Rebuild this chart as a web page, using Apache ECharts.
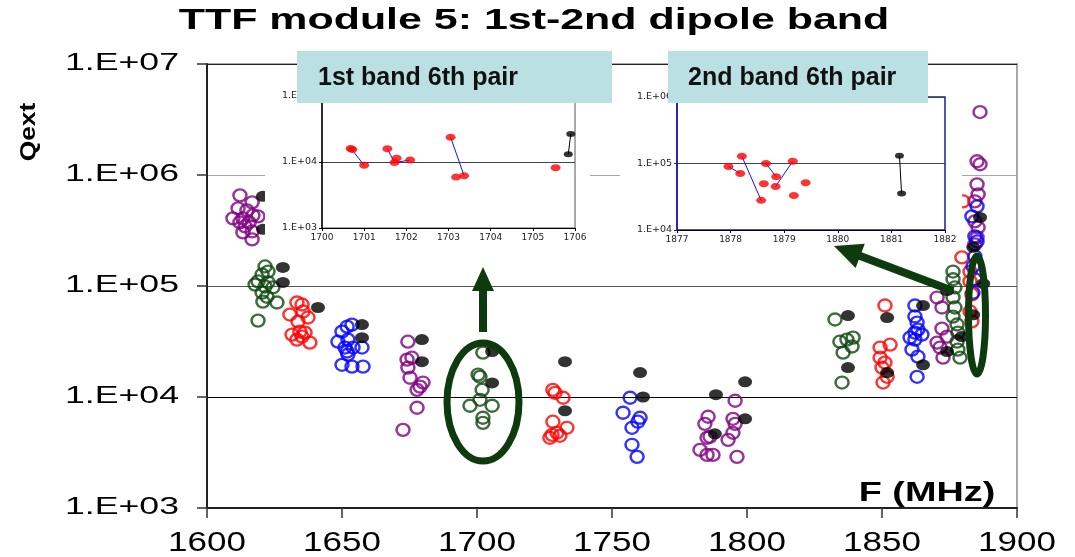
<!DOCTYPE html>
<html>
<head>
<meta charset="utf-8">
<script src="https://cdn.jsdelivr.net/npm/echarts@6/dist/echarts.min.js"></script>
<style>
  html, body { margin: 0; padding: 0; background: #fff; }
  #chart { width: 1075px; height: 557px; }
</style>
</head>
<body>
<div id="chart"></div>
<script>
// ---- Main plot: Qext versus frequency, one colour per cavity group ----
const purpleModes = [
  [1612.2, 656000], [1616.7, 567000], [1611.5, 501000], [1614.8, 481000], [1609.6, 407000],
  [1613.3, 407000], [1617.0, 433000], [1618.9, 424000], [1615.6, 374000], [1614.1, 344000],
  [1616.7, 310000], [1613.3, 304000], [1616.7, 263000], [1612.2, 374000],
  [1674.4, 31500], [1675.9, 22600], [1674.1, 21700], [1674.4, 18400], [1675.2, 14900],
  [1680.0, 13500], [1677.8, 11600], [1678.9, 12400], [1677.8, 8000], [1672.6, 5060],
  [1795.6, 9250], [1785.6, 6640], [1784.4, 5730], [1794.8, 6360], [1795.6, 5730],
  [1794.8, 4760], [1785.2, 4290], [1793.0, 4110], [1786.3, 4380], [1782.6, 3340],
  [1785.2, 3010], [1787.4, 3010], [1796.3, 2890],
  [1870.4, 78700], [1872.2, 64000], [1872.2, 41300], [1870.4, 30900], [1874.1, 35000],
  [1871.5, 27900], [1872.6, 22600],
  [1886.3, 3690000], [1885.2, 1330000], [1886.3, 1250000], [1885.2, 824000], [1885.6, 670000],
  [1884.4, 579000], [1884.4, 382000], [1885.6, 337000], [1885.2, 274000], [1884.4, 237000]
];
const greenModes = [
  [1621.5, 150000], [1622.6, 135000], [1620.4, 127000], [1618.9, 110000], [1622.6, 108000],
  [1621.5, 99000], [1624.4, 97000], [1620.4, 87000], [1622.2, 80000], [1625.9, 71000],
  [1618.9, 48800], [1617.8, 103000], [1620.7, 72400],
  [1702.2, 25100], [1700.4, 15900], [1701.1, 15200], [1701.9, 11600], [1701.1, 9440],
  [1697.4, 8340], [1705.6, 8340], [1702.2, 6500], [1702.2, 5850],
  [1832.6, 49900], [1834.4, 31500], [1837.0, 32900], [1839.3, 34300], [1838.9, 28500],
  [1835.6, 25100], [1835.2, 13500],
  [1876.3, 135000], [1876.3, 115000], [1877.0, 97000], [1876.3, 79000], [1877.0, 64000],
  [1876.3, 53000], [1877.8, 45000], [1878.1, 38000], [1877.8, 31500], [1878.1, 26700],
  [1878.9, 22600]
];
const redModes = [
  [1633.3, 71000], [1635.2, 68100], [1630.7, 55300], [1635.6, 58900], [1637.4, 52000],
  [1633.7, 47800], [1631.5, 36500], [1634.4, 38800], [1636.3, 38000], [1633.3, 32900],
  [1638.1, 30900], [1635.2, 35000],
  [1728.1, 11600], [1728.9, 10900], [1731.9, 9850], [1728.1, 5990], [1733.3, 5280],
  [1729.6, 4760], [1727.0, 4290], [1730.7, 4470], [1727.8, 4560],
  [1851.1, 66700], [1849.3, 27900], [1853.0, 29600], [1849.3, 22600], [1851.1, 20400],
  [1850.0, 18400], [1851.9, 15200], [1850.4, 13500],
  [1880.0, 579000], [1879.6, 181000], [1882.6, 135000], [1882.6, 110000], [1883.3, 84000],
  [1882.6, 59000], [1883.3, 48000]
];
const blueModes = [
  [1651.9, 43000], [1653.7, 44900], [1650.0, 38800], [1648.5, 31500], [1652.2, 32900],
  [1651.1, 27900], [1654.1, 27900], [1657.4, 27900], [1652.2, 24100], [1650.0, 19500],
  [1653.7, 18800], [1657.8, 18800], [1651.9, 25700],
  [1756.7, 9850], [1754.1, 7210], [1760.4, 6500], [1759.6, 5990], [1757.4, 5280],
  [1757.4, 3710], [1759.3, 2890],
  [1862.2, 66700], [1862.2, 53100], [1863.0, 46800], [1863.3, 40500], [1862.2, 38000],
  [1864.8, 36500], [1860.4, 34300], [1862.2, 32900], [1861.1, 26700], [1863.3, 23100],
  [1863.0, 15200],
  [1885.2, 522000], [1883.3, 424000], [1884.4, 280000], [1885.2, 252000], [1884.4, 185000],
  [1883.7, 150000], [1884.4, 115000], [1883.7, 87000]
];
const blackModes = [
  [1620.7, 643000], [1620.7, 324000], [1628.1, 147000], [1628.1, 107700], [1641.1, 64000],
  [1657.4, 44900], [1657.4, 34200], [1679.6, 32900], [1679.6, 20800], [1705.6, 25700],
  [1705.6, 13400], [1732.6, 20800], [1732.6, 7520], [1760.4, 16600], [1761.5, 10000],
  [1788.5, 10500], [1788.1, 4660], [1799.3, 13700], [1799.3, 6360], [1837.4, 54200],
  [1837.4, 18400], [1851.9, 52000], [1851.9, 16600], [1865.2, 66700], [1865.2, 19500],
  [1874.1, 91000], [1874.1, 25700], [1886.3, 415000], [1883.8, 223000], [1887.5, 105000],
  [1883.8, 55000], [1879.5, 35000]
];

// ---- Inset: 1st band, 6th pair ----
const band1Red = [
  [1700.68, 16000], [1700.72, 15500], [1701.0, 8900], [1701.55, 15900], [1701.77, 11400],
  [1701.72, 9800], [1702.09, 10700], [1703.05, 23700], [1703.18, 5900], [1703.37, 6200],
  [1705.54, 8200]
];
const band1Black = [[1705.84, 13100], [1705.90, 26600]];
const band1Links = [
  [[1700.7, 15700], [1701.0, 8900]],
  [[1701.55, 15900], [1701.72, 9800]],
  [[1701.72, 9800], [1702.09, 10700]],
  [[1703.05, 23700], [1703.37, 6200]]
];
const band1BlackLinks = [[[1705.84, 13100], [1705.90, 26600]]];

// ---- Inset: 2nd band, 6th pair ----
const band2Red = [
  [1877.96, 90200], [1878.18, 70800], [1878.21, 128700], [1878.57, 27900], [1878.66, 100000],
  [1878.62, 49600], [1878.85, 63200], [1878.84, 45200], [1879.16, 108300], [1879.18, 33100],
  [1879.40, 51300]
];
const band2Black = [[1881.15, 130400], [1881.19, 35500]];
const band2Links = [
  [[1877.96, 90200], [1878.18, 70800]],
  [[1878.21, 128700], [1878.57, 27900]],
  [[1878.66, 100000], [1878.85, 63200]],
  [[1878.84, 45200], [1879.16, 108300]]
];
const band2BlackLinks = [[[1881.15, 130400], [1881.19, 35500]]];

// ---- Axis ticks and labels of the main plot ----
const freqTicks = [1600, 1650, 1700, 1750, 1800, 1850, 1900];
const qTicks = [1e3, 1e4, 1e5, 1e6, 1e7];
const qTickLabels = ['1.E+03', '1.E+04', '1.E+05', '1.E+06', '1.E+07'];

const chartTitle = 'TTF module 5: 1st-2nd dipole band';
const yName = 'Qext';
const xName = 'F (MHz)';
const inset1Title = '1st band 6th pair';
const inset2Title = '2nd band 6th pair';

const PURPLE = '#800080', GREEN = '#0f470f', RED = '#ff0000', BLUE = '#0000ff', BLACK = '#000000';
const ANNOT = '#0d3b0d';
const NAVY = '#1a1aa8';

const expLabel = v => '1.E+' + String(Math.round(Math.log10(v))).padStart(2, '0');

function hollow(name, data, color) {
  return {
    name, type: 'scatter', xAxisIndex: 0, yAxisIndex: 0, data,
    symbol: 'circle', symbolSize: [13, 12], silent: true, z: 2,
    itemStyle: { color: 'rgba(0,0,0,0)', borderColor: color, borderWidth: 2.4 },
    emphasis: { disabled: true }
  };
}
function dots(name, data, color, idx, size, z) {
  return {
    name, type: 'scatter', xAxisIndex: idx, yAxisIndex: idx, data,
    symbol: 'circle', symbolSize: size, silent: true, z,
    itemStyle: { color }, emphasis: { disabled: true }
  };
}
function links(name, segs, color, idx) {
  return {
    name, type: 'lines', coordinateSystem: 'cartesian2d', xAxisIndex: idx, yAxisIndex: idx,
    data: segs.map(c => ({ coords: c })), silent: true, z: 12,
    lineStyle: { color, width: 1, opacity: 1, curveness: 0 }
  };
}
function insetX(idx, min, max) {
  return {
    gridIndex: idx, type: 'value', min, max, interval: 1, z: 11,
    axisLine: { onZero: false, lineStyle: { color: '#000', width: 1 } },
    axisTick: { length: 3, lineStyle: { color: '#000' } },
    axisLabel: { fontSize: 9, fontFamily: 'DejaVu Sans', color: '#222', margin: 5, formatter: v => String(v) },
    splitLine: { show: false }
  };
}
function insetY(idx, min, max, lineColor) {
  return {
    gridIndex: idx, type: 'log', logBase: 10, min, max, z: 11,
    axisLine: { show: true, onZero: false, lineStyle: { color: lineColor, width: 1.5 } },
    axisTick: { show: true, length: 3, lineStyle: { color: lineColor } },
    axisLabel: { fontSize: 9.5, fontFamily: 'DejaVu Sans', color: '#222', margin: 5, formatter: expLabel },
    splitLine: { show: true, lineStyle: { color: '#444', width: 1 } }
  };
}

const chart = echarts.init(document.getElementById('chart'), null, { renderer: 'canvas' });

const option = {
  animation: false,
  backgroundColor: '#ffffff',
  grid: [
    { left: 207, top: 64, width: 810, height: 444, show: true, borderColor: '#a8a8a8', borderWidth: 2, z: 0 },
    { left: 322, top: 96, width: 253, height: 132, show: true, borderColor: '#555', borderWidth: 1, z: 11 },
    { left: 677, top: 97, width: 268, height: 133, show: true, borderColor: NAVY, borderWidth: 1.5, z: 11 }
  ],
  xAxis: [
    {
      gridIndex: 0, type: 'value', min: 1600, max: 1900, interval: 50,
      axisLine: { onZero: false, lineStyle: { color: '#222', width: 2 } },
      axisTick: { length: 10, lineStyle: { color: '#333', width: 1.5 } },
      axisLabel: { show: false }, splitLine: { show: false }
    },
    insetX(1, 1700, 1706),
    insetX(2, 1877, 1882)
  ],
  yAxis: [
    {
      gridIndex: 0, type: 'log', logBase: 10, min: 1e3, max: 1e7,
      axisLine: { show: true, onZero: false, lineStyle: { color: '#222', width: 2 } },
      axisTick: { show: true, length: 10, lineStyle: { color: '#333', width: 1.5 } },
      axisLabel: { show: false },
      splitLine: { show: true, lineStyle: { color: ['#222', '#555', '#000', '#555', '#a8a8a8'], width: 1 } }
    },
    insetY(1, 1e3, 1e5, '#000'),
    insetY(2, 1e4, 1e6, NAVY)
  ],
  series: [
    hollow('purple', purpleModes, PURPLE),
    hollow('green', greenModes, GREEN),
    hollow('red', redModes, RED),
    hollow('blue', blueModes, BLUE),
    dots('black', blackModes, BLACK, 0, [14, 11], 3),
    links('band1 links', band1Links, '#1010ff', 1),
    links('band1 black link', band1BlackLinks, '#000', 1),
    dots('band1 red', band1Red, RED, 1, [10, 7], 13),
    dots('band1 black', band1Black, BLACK, 1, [9, 6], 13),
    links('band2 links', band2Links, '#1010ff', 2),
    links('band2 black link', band2BlackLinks, '#000', 2),
    dots('band2 red', band2Red, RED, 2, [10, 7], 13),
    dots('band2 black', band2Black, BLACK, 2, [9, 6], 13)
  ]
};
chart.setOption(option);

// Arrow outline from tail (x1,y1) to tip (x2,y2)
function arrowPoints(x1, y1, x2, y2, shaft, headW, headL) {
  const dx = x2 - x1, dy = y2 - y1, L = Math.hypot(dx, dy);
  const ux = dx / L, uy = dy / L, nx = -uy, ny = ux;
  const bx = x2 - ux * headL, by = y2 - uy * headL;
  const s = shaft / 2, h = headW / 2;
  return [
    [x1 + nx * s, y1 + ny * s], [bx + nx * s, by + ny * s], [bx + nx * h, by + ny * h],
    [x2, y2],
    [bx - nx * h, by - ny * h], [bx - nx * s, by - ny * s], [x1 - nx * s, y1 - ny * s]
  ];
}

const elements = [];
// white panels behind the insets
elements.push({ type: 'rect', z: 10, silent: true, shape: { x: 265, y: 67, width: 325, height: 179 }, style: { fill: '#fff' } });
elements.push({ type: 'rect', z: 10, silent: true, shape: { x: 620, y: 67, width: 342, height: 179 }, style: { fill: '#fff' } });
// inset title boxes
elements.push({ type: 'rect', z: 13, silent: true, shape: { x: 297, y: 51, width: 315, height: 52 }, style: { fill: '#bae0e3' } });
elements.push({ type: 'rect', z: 13, silent: true, shape: { x: 668, y: 51, width: 260, height: 52 }, style: { fill: '#bae0e3' } });
elements.push({ type: 'text', z: 14, silent: true, x: 318, y: 78,
  style: { text: inset1Title, font: 'bold 25px "Liberation Sans"', fill: '#111', align: 'left', verticalAlign: 'middle' } });
elements.push({ type: 'text', z: 14, silent: true, x: 688, y: 78,
  style: { text: inset2Title, font: 'bold 25px "Liberation Sans"', fill: '#111', align: 'left', verticalAlign: 'middle' } });
// highlight ellipses and arrows
elements.push({ type: 'ellipse', z: 15, silent: true, shape: { cx: 483, cy: 402, rx: 36, ry: 59 },
  style: { fill: 'none', stroke: ANNOT, lineWidth: 7 } });
elements.push({ type: 'ellipse', z: 15, silent: true, shape: { cx: 977, cy: 315, rx: 8.5, ry: 59 },
  style: { fill: 'none', stroke: ANNOT, lineWidth: 7 } });
elements.push({ type: 'polygon', z: 15, silent: true, shape: { points: arrowPoints(483, 332, 483, 267, 8, 22, 24) },
  style: { fill: ANNOT } });
elements.push({ type: 'polygon', z: 15, silent: true, shape: { points: arrowPoints(953, 291, 834, 246, 8, 26, 28) },
  style: { fill: ANNOT } });
// chart title and axis names
elements.push({ type: 'text', z: 20, silent: true, x: 534, y: 21, scaleX: 1.48,
  style: { text: chartTitle, font: 'bold 29px "Liberation Sans"', fill: '#000', align: 'center', verticalAlign: 'middle' } });
elements.push({ type: 'text', z: 20, silent: true, x: 29, y: 132, rotation: Math.PI / 2, scaleX: 1.2,
  style: { text: yName, font: 'bold 22px "Liberation Sans"', fill: '#000', align: 'center', verticalAlign: 'middle' } });
elements.push({ type: 'text', z: 20, silent: true, x: 927, y: 494, scaleX: 1.4,
  style: { text: xName, font: 'bold 27px "Liberation Sans"', fill: '#000', align: 'center', verticalAlign: 'middle' } });
// main tick labels, placed through the axes' own scales
freqTicks.forEach(v => {
  const px = chart.convertToPixel({ xAxisIndex: 0 }, v);
  elements.push({ type: 'text', z: 20, silent: true, x: px, y: 529, scaleX: 1.25,
    style: { text: String(v), font: '28px "Liberation Sans"', fill: '#000', align: 'center', verticalAlign: 'top' } });
});
qTicks.forEach((v, i) => {
  const py = chart.convertToPixel({ yAxisIndex: 0 }, v);
  elements.push({ type: 'text', z: 20, silent: true, x: 179, y: py, scaleX: 1.55,
    style: { text: qTickLabels[i], font: '23px "Liberation Sans"', fill: '#000', align: 'right', verticalAlign: 'middle' } });
});

chart.setOption({ graphic: { elements } });
</script>
</body>
</html>
